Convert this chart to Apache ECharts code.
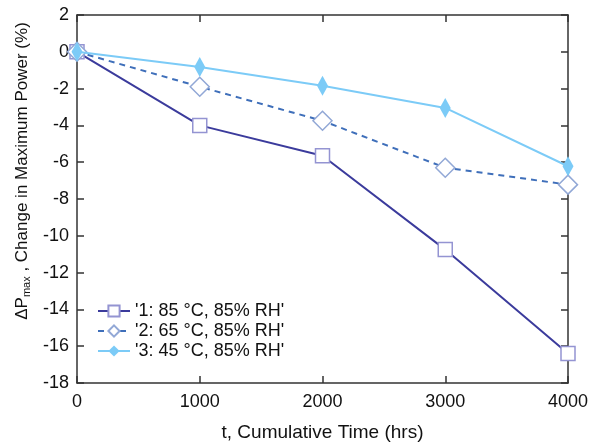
<!DOCTYPE html>
<html><head><meta charset="utf-8">
<script src="https://cdn.jsdelivr.net/npm/echarts@6/dist/echarts.min.js"></script>
<style>html,body{margin:0;padding:0;background:#fff}#c{width:610px;height:442px}</style>
</head><body><div id="c"></div>
<script>
const times = [0, 1000, 2000, 3000, 4000];
const s1Name = "'1: 85 °C, 85% RH'";
const s2Name = "'2: 65 °C, 85% RH'";
const s3Name = "'3: 45 °C, 85% RH'";
const s1 = [0, -4.0, -5.65, -10.75, -16.4];
const s2 = [0, -1.9, -3.75, -6.3, -7.22];
const s3 = [0, -0.82, -1.85, -3.05, -6.22];

const font = 'Liberation Sans, Arial, Helvetica, sans-serif';
const axisColor = '#333';
const chart = echarts.init(document.getElementById('c'));
const pair = a => a.map((v, i) => [times[i], v]);
const common = {
  axisLine: {show: true, onZero: false, lineStyle: {color: axisColor, width: 1.5}},
  axisTick: {show: true, inside: true, length: 7, lineStyle: {color: axisColor, width: 1.5}},
  splitLine: {show: false}
};
chart.setOption({
  animation: false,
  textStyle: {fontFamily: font},
  grid: {left: 77, right: 42, top: 15, bottom: 59, containLabel: false, outerBoundsMode: 'none'},
  xAxis: [
    Object.assign({type: 'value', min: 0, max: 4000, interval: 1000, position: 'bottom',
      axisLabel: {fontSize: 18, color: '#111', margin: 10, fontFamily: font, formatter: v => String(v)},
      name: 't, Cumulative Time (hrs)', nameLocation: 'middle', nameGap: 40,
      nameTextStyle: {fontSize: 19, color: '#111', fontFamily: font}}, common),
    Object.assign({type: 'value', min: 0, max: 4000, interval: 1000, position: 'top',
      axisLabel: {show: false}}, common)
  ],
  yAxis: [
    Object.assign({type: 'value', min: -18, max: 2, interval: 2, position: 'left',
      axisLabel: {fontSize: 18, color: '#111', margin: 8, fontFamily: font},
      name: '{a|ΔP}{s|max}{a| , Change in Maximum Power (%)}', nameLocation: 'middle', nameGap: 45,
      nameRotate: 90,
      nameTextStyle: {fontSize: 17, color: '#111', fontFamily: font, padding: [0, 0, 0, 56],
        rich: {a: {fontSize: 17, color: '#111', fontFamily: font},
               s: {fontSize: 11, color: '#111', fontFamily: font, padding: [9, 0, 0, 0]}}}}, common),
    Object.assign({type: 'value', min: -18, max: 2, interval: 2, position: 'right',
      axisLabel: {show: false}}, common)
  ],
  legend: {
    orient: 'vertical', left: 92, top: 297, itemGap: 2, itemWidth: 32, itemHeight: 14,
    textStyle: {fontSize: 18, color: '#111', fontFamily: font},
    data: [s1Name, s2Name, s3Name]
  },
  series: [
    {name: s1Name, type: 'line', data: pair(s1), symbol: 'rect', symbolSize: 14,
      lineStyle: {color: '#3b3b9c', width: 2}, itemStyle: {color: '#fff', borderColor: '#9494d2', borderWidth: 1.5}, z: 3},
    {name: s2Name, type: 'line', data: pair(s2), symbol: 'diamond', symbolSize: 19,
      lineStyle: {color: '#3f6fba', width: 2, type: [6, 5]}, itemStyle: {color: '#fff', borderColor: '#92a8d6', borderWidth: 1.5}, z: 4},
    {name: s3Name, type: 'line', data: pair(s3), symbol: 'diamond', symbolSize: [11, 20],
      lineStyle: {color: '#7ccbf7', width: 2}, itemStyle: {color: '#7ccbf7'}, z: 5}
  ]
});
</script></body></html>
